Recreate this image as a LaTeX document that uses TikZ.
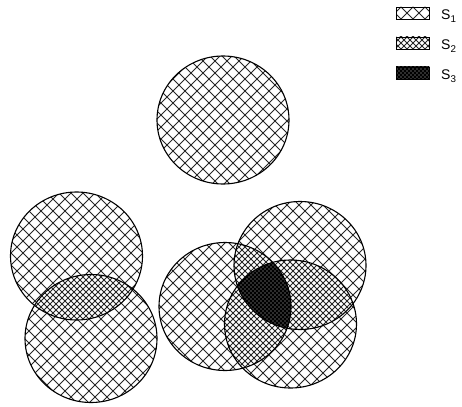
\documentclass[tikz,border=0pt]{standalone}
\usepackage{fontspec}
\setmainfont{Liberation Sans}
\begin{document}
\begin{tikzpicture}[x=1pt,y=-1pt,
  hatchA/.style={line width=0.9pt,black!85},
  hatchB/.style={line width=0.8pt,black!85},
  hatchC/.style={line width=1.3pt,black},
  outline/.style={line width=1.1pt,black},
  legbox/.style={line width=0.8pt,black},
  leglabel/.style={anchor=base west,inner sep=0pt,font=\fontsize{14}{16}\selectfont}]
\useasboundingbox (0,0) rectangle (462,406);
\newcommand\hgrid[2]{%
  \pgfmathtruncatemacro\hgN{880/#1}%
  \foreach \k in {0,...,\hgN} {%
    \draw[#2] (\k*#1-410,0) -- ++(406,406);
    \draw[#2] (\k*#1,0) -- ++(-406,406);
  }}
% circle geometry
\def\rx{66pt}\def\ry{64pt}
\coordinate (T) at (223,120);
\coordinate (L1) at (76.5,256);
\coordinate (L2) at (91,338.5);
\coordinate (A) at (225,306.5);
\coordinate (B) at (300,265.5);
\coordinate (C) at (290.5,324);
\tikzset{ell/.style={x radius=\rx,y radius=\ry}}
% S1 hatching on union
\begin{scope}
  \clip (T) ellipse [ell] (L1) ellipse [ell] (L2) ellipse [ell]
        (A) ellipse [ell] (B) ellipse [ell] (C) ellipse [ell]
        (396,7) rectangle (429,19);
  \hgrid{12}{hatchA}
\end{scope}
% S2 lenses
\begin{scope}
  \clip (L1) ellipse [ell]; \clip (L2) ellipse [ell];
  \fill[white] (0,0) rectangle (462,406); \hgrid{6}{hatchB}
\end{scope}
\begin{scope}
  \clip (A) ellipse [ell]; \clip (B) ellipse [ell];
  \fill[white] (0,0) rectangle (462,406); \hgrid{6}{hatchB}
\end{scope}
\begin{scope}
  \clip (A) ellipse [ell]; \clip (C) ellipse [ell];
  \fill[white] (0,0) rectangle (462,406); \hgrid{6}{hatchB}
\end{scope}
\begin{scope}
  \clip (B) ellipse [ell]; \clip (C) ellipse [ell];
  \fill[white] (0,0) rectangle (462,406); \hgrid{6}{hatchB}
\end{scope}
\begin{scope}
  \clip (396,37) rectangle (429,49);
  \hgrid{6}{hatchB}
\end{scope}
% S3 triple region
\begin{scope}
  \clip (A) ellipse [ell]; \clip (B) ellipse [ell]; \clip (C) ellipse [ell];
  \fill[black!65] (0,0) rectangle (462,406); \hgrid{4}{hatchC}
\end{scope}
\begin{scope}
  \clip (396,67) rectangle (429,79);
  \fill[black!65] (0,0) rectangle (462,406); \hgrid{4}{hatchC}
\end{scope}
% outlines
\foreach \p in {T,L1,L2,A,B,C} \draw[outline] (\p) ellipse [ell];
% legend
\draw[legbox] (396,7) rectangle (429,19);
\draw[legbox] (396,37) rectangle (429,49);
\draw[legbox] (396,67) rectangle (429,79);
\node[leglabel] (s1) at (441,20) {S\textsubscript{1}};
\node[leglabel] (s2) at (441,50) {S\textsubscript{2}};
\node[leglabel] (s3) at (441,80) {S\textsubscript{3}};
\end{tikzpicture}
\end{document}
